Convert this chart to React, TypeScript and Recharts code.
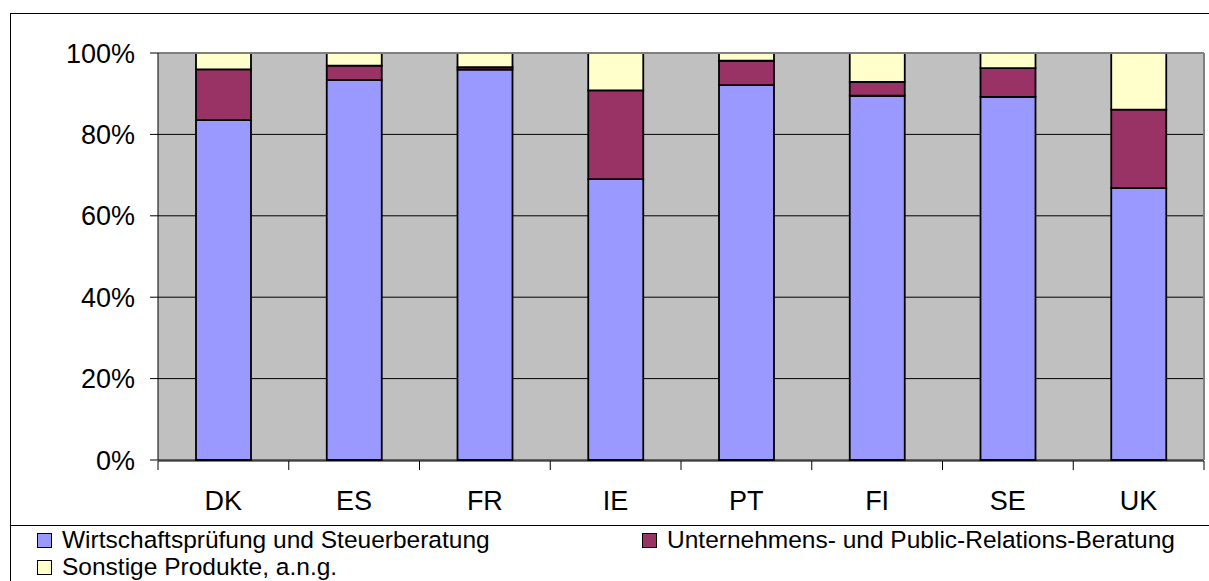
import { BarChart, Bar, XAxis, YAxis, CartesianGrid, ReferenceLine } from 'recharts';

// Anteile je Land (in %)
const countries = ['DK', 'ES', 'FR', 'IE', 'PT', 'FI', 'SE', 'UK'];
const pruefung = [83.5, 93.4, 95.9, 69.0, 92.1, 89.5, 89.2, 66.8];
const beratung = [12.5, 3.5, 0.6, 21.8, 6.0, 3.4, 7.1, 19.3];
const sonstige = [4.0, 3.1, 3.5, 9.2, 1.9, 7.1, 3.7, 13.9];
const yTicks = [0, 20, 40, 60, 80, 100];
const boundaryTicks = [0, 1, 2, 3, 4, 5, 6, 7, 8];

const seriesNames = {
  pruefung: 'Wirtschaftsprüfung und Steuerberatung',
  beratung: 'Unternehmens- und Public-Relations-Beratung',
  sonstige: 'Sonstige Produkte, a.n.g.',
};

const colors = {
  pruefung: '#9999FF',
  beratung: '#993366',
  sonstige: '#FFFFCC',
};

const FONT = '"Liberation Sans", Arial, sans-serif';

const chartData = countries.map((country, i) => ({
  country,
  slot: i + 0.5,
  pruefung: pruefung[i],
  beratung: beratung[i],
  sonstige: sonstige[i],
}));

function LegendItem({ color, label, style }: { color: string; label: string; style: React.CSSProperties }) {
  return (
    <div style={{ position: 'absolute', display: 'flex', alignItems: 'center', whiteSpace: 'nowrap', height: 24, ...style }}>
      <span
        style={{
          display: 'inline-block',
          width: 13,
          height: 13,
          background: color,
          border: '1px solid #000',
          marginRight: 10,
        }}
      />
      <span style={{ fontSize: 24.5, lineHeight: '24px', color: '#000' }}>{label}</span>
    </div>
  );
}

export default function App() {
  return (
    <div style={{ position: 'absolute', left: 0, top: 0, width: 1209, height: 581, overflow: 'hidden', background: '#fff', fontFamily: FONT }}>
      {/* outer frame and legend separator */}
      <div style={{ position: 'absolute', left: 10, top: 13, width: 1210, height: 600, borderLeft: '1px solid #000', borderTop: '1px solid #000' }} />
      <div style={{ position: 'absolute', left: 10, top: 525, width: 1199, height: 0, borderTop: '1px solid #000' }} />

      <div style={{ position: 'absolute', left: 0, top: 0 }}>
        <BarChart
          width={1209}
          height={581}
          data={chartData}
          margin={{ top: 53, right: 5, left: 58, bottom: 60 }}
          barSize={55}
        >
          <CartesianGrid vertical={false} stroke="#000" fill="#C0C0C0" />
          <XAxis
            xAxisId="cat"
            dataKey="country"
            height={1}
            axisLine={false}
            tickLine={false}
            tickSize={0}
            tickMargin={31}
            tick={{ fill: '#000', fontSize: 27, fontFamily: FONT }}
          />
          <XAxis
            xAxisId="ticks"
            type="number"
            dataKey="slot"
            domain={[0, 8]}
            ticks={boundaryTicks}
            interval={0}
            height={60}
            tickFormatter={() => ''}
            tickSize={9}
            axisLine={{ stroke: '#000' }}
            tickLine={{ stroke: '#000' }}
          />
          <YAxis
            width={100}
            domain={[0, 100]}
            ticks={yTicks}
            tickFormatter={(v) => `${v}%`}
            axisLine={{ stroke: '#000' }}
            tickLine={{ stroke: '#000' }}
            tickSize={8}
            tickMargin={15}
            tick={{ fill: '#000', fontSize: 27, fontFamily: FONT }}
          />
          <ReferenceLine y={100} xAxisId="cat" stroke="#808080" strokeWidth={2} />
          <ReferenceLine x={8} xAxisId="ticks" stroke="#808080" strokeWidth={2} />
          <Bar dataKey="pruefung" xAxisId="cat" stackId="a" name={seriesNames.pruefung} fill={colors.pruefung} stroke="#000" strokeWidth={1.8} isAnimationActive={false} />
          <Bar dataKey="beratung" xAxisId="cat" stackId="a" name={seriesNames.beratung} fill={colors.beratung} stroke="#000" strokeWidth={1.8} isAnimationActive={false} />
          <Bar dataKey="sonstige" xAxisId="cat" stackId="a" name={seriesNames.sonstige} fill={colors.sonstige} stroke="#000" strokeWidth={1.8} isAnimationActive={false} />
        </BarChart>
      </div>

      <LegendItem color={colors.pruefung} label={seriesNames.pruefung} style={{ left: 37, top: 528 }} />
      <LegendItem color={colors.beratung} label={seriesNames.beratung} style={{ left: 642, top: 528 }} />
      <LegendItem color={colors.sonstige} label={seriesNames.sonstige} style={{ left: 37, top: 555 }} />
    </div>
  );
}
